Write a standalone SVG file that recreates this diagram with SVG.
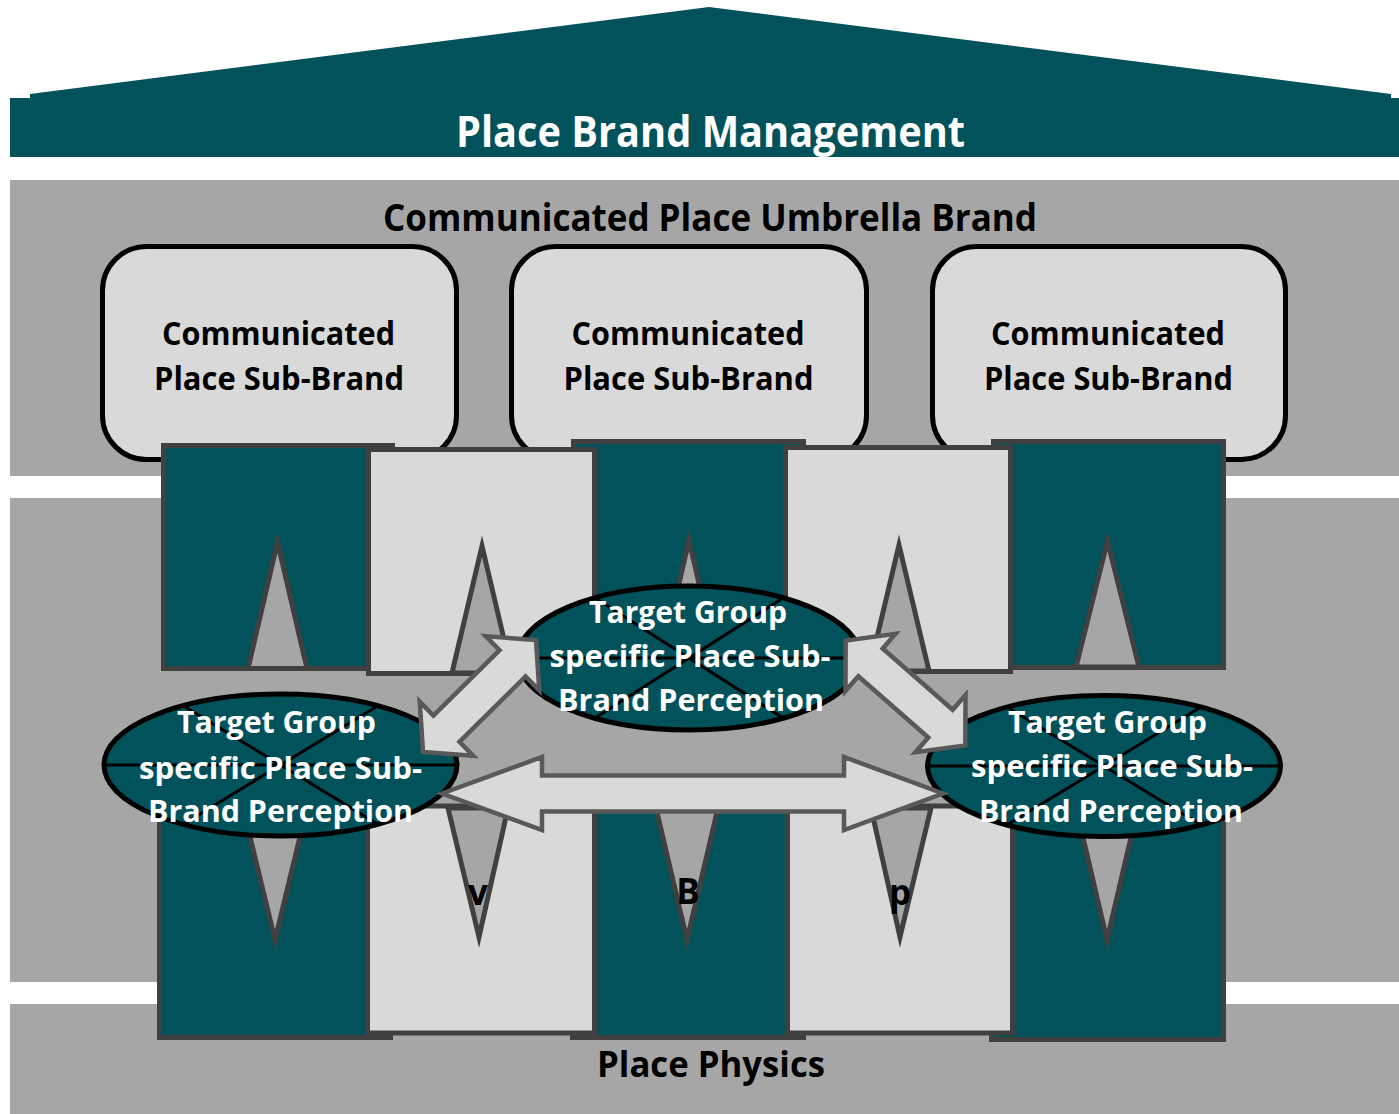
<svg xmlns="http://www.w3.org/2000/svg" width="1399" height="1114" viewBox="0 0 1399 1114">
  <style>
    .band { fill: #A6A6A6; }
    .teal { fill: #02525C; stroke: #404040; stroke-width: 5; }
    .light { fill: #D9D9D9; stroke: #404040; stroke-width: 5; }
    .spike { fill: #A6A6A6; stroke: #404040; stroke-width: 5; stroke-linejoin: miter; stroke-miterlimit: 10; }
    .box { fill: #D9D9D9; stroke: #000; stroke-width: 5; }
    .oval { fill: #02525C; stroke: #000; stroke-width: 5; }
    .cross { stroke: #000; stroke-width: 3; fill: none; }
    .arrow { fill: #D9D9D9; stroke: #595959; stroke-width: 4.5; stroke-linejoin: miter; }
    text { font-family: "Open Sans", "Noto Sans", "DejaVu Sans", sans-serif; font-weight: 700; text-anchor: middle; }
    .dark { fill: #000; }
    .white { fill: #fff; }
  </style>
  <defs>
    <!-- double-headed block arrow along the x axis, centred on the origin -->
    <polygon id="diag-arrow" points="-79.5,0 -46.5,-38 -46.5,-18.5 46.5,-18.5 46.5,-38 79.5,0 46.5,38 46.5,18.5 -46.5,18.5 -46.5,38"/>
  </defs>

  <rect width="1399" height="1114" fill="#fff"/>

  <!-- horizontal layers -->
  <g id="layers">
    <rect class="band" x="10" y="180" width="1389" height="296"/>
    <rect class="band" x="10" y="498" width="1389" height="484"/>
    <rect class="band" x="10" y="1004" width="1389" height="110"/>
  </g>

  <!-- roof -->
  <g id="roof">
    <polygon fill="#02525C" points="10,98 30,98 30,94 709,7 1391,94 1391,98 1399,98 1399,157 10,157"/>
    <text class="white" x="710.5" y="147" font-size="43" textLength="509" lengthAdjust="spacingAndGlyphs">Place Brand Management</text>
  </g>

  <g id="umbrella-label">
    <text class="dark" x="710" y="231" font-size="37" textLength="654" lengthAdjust="spacingAndGlyphs">Communicated Place Umbrella Brand</text>
  </g>

  <!-- sub-brand boxes -->
  <g id="sub-brand-1">
    <rect class="box" x="102.5" y="246.5" width="354" height="213" rx="44" ry="44"/>
    <text class="dark" x="278.5" y="345" font-size="32" textLength="233" lengthAdjust="spacingAndGlyphs">Communicated</text>
    <text class="dark" x="279" y="390" font-size="32" textLength="250" lengthAdjust="spacingAndGlyphs">Place Sub-Brand</text>
  </g>
  <g id="sub-brand-2">
    <rect class="box" x="511.5" y="246.5" width="355" height="213" rx="44" ry="44"/>
    <text class="dark" x="688" y="345" font-size="32" textLength="233" lengthAdjust="spacingAndGlyphs">Communicated</text>
    <text class="dark" x="688.5" y="390" font-size="32" textLength="250" lengthAdjust="spacingAndGlyphs">Place Sub-Brand</text>
  </g>
  <g id="sub-brand-3">
    <rect class="box" x="932.5" y="246.5" width="353" height="213" rx="44" ry="44"/>
    <text class="dark" x="1108" y="345" font-size="32" textLength="234" lengthAdjust="spacingAndGlyphs">Communicated</text>
    <text class="dark" x="1108.5" y="390" font-size="32" textLength="249" lengthAdjust="spacingAndGlyphs">Place Sub-Brand</text>
  </g>

  <!-- upper pillar segments -->
  <g id="pillars-upper">
    <rect class="teal" x="163.5" y="445.5" width="229" height="223"/>
    <polygon class="spike" points="277.5,542 307,668.5 248,668.5"/>
    <rect class="teal" x="573.5" y="441.5" width="230" height="230"/>
    <polygon class="spike" points="689,540 719,671 659,671"/>
    <rect class="teal" x="993.5" y="441.5" width="230" height="226"/>
    <polygon class="spike" points="1107.5,541 1139,667 1076,667"/>
    <rect class="light" x="368.5" y="449.5" width="226" height="224"/>
    <polygon class="spike" points="482,546 512,673 452,673"/>
    <rect class="light" x="785.5" y="447.5" width="225" height="224"/>
    <polygon class="spike" points="899,545 929,671 869,671"/>
  </g>

  <!-- lower pillar segments -->
  <g id="pillars-lower">
    <rect class="teal" x="159.5" y="812" width="231" height="225.5"/>
    <polygon class="spike" points="244,812 306,812 275,940"/>
    <rect class="teal" x="572.5" y="806" width="231" height="231.5"/>
    <polygon class="spike" points="656,808 718,808 687,940"/>
    <rect class="teal" x="991.5" y="812" width="232" height="227.5"/>
    <polygon class="spike" points="1077,812 1137,812 1107,940"/>
    <rect class="light" x="367.5" y="806" width="227" height="227"/>
    <polygon class="spike" points="448,808 508,808 479,937"/>
    <rect class="light" x="787.5" y="806" width="225" height="227"/>
    <polygon class="spike" points="871,808 931,808 900,937"/>
    <text class="dark" x="478" y="905" font-size="35">v</text>
    <text class="dark" x="688" y="904" font-size="35">B</text>
    <text class="dark" x="900" y="905" font-size="35">p</text>
  </g>

  <g id="place-physics">
    <text class="dark" x="711" y="1077" font-size="35" textLength="228" lengthAdjust="spacingAndGlyphs">Place Physics</text>
  </g>

  <!-- target group perceptions -->
  <g id="perception-left">
    <ellipse class="oval" cx="280.5" cy="765" rx="176.5" ry="71"/>
    <path class="cross" d="M104,765 H457 M183.5,706 L377.5,824 M377.5,706 L183.5,824"/>
    <text class="white" x="276.5" y="733" font-size="31" textLength="199" lengthAdjust="spacingAndGlyphs">Target Group</text>
    <text class="white" x="280.5" y="779" font-size="31" textLength="283" lengthAdjust="spacingAndGlyphs">specific Place Sub-</text>
    <text class="white" x="280.5" y="822" font-size="31" textLength="265" lengthAdjust="spacingAndGlyphs">Brand Perception</text>
  </g>
  <g id="perception-top">
    <ellipse class="oval" cx="689" cy="658" rx="171.5" ry="72"/>
    <path class="cross" d="M517.5,658 H860.5 M595,598 L783,718 M783,598 L595,718"/>
    <text class="white" x="688" y="623" font-size="31" textLength="198" lengthAdjust="spacingAndGlyphs">Target Group</text>
    <text class="white" x="690" y="667" font-size="31" textLength="281" lengthAdjust="spacingAndGlyphs">specific Place Sub-</text>
    <text class="white" x="691" y="711" font-size="31" textLength="266" lengthAdjust="spacingAndGlyphs">Brand Perception</text>
  </g>
  <g id="perception-right">
    <ellipse class="oval" cx="1104" cy="766" rx="176.5" ry="70.5"/>
    <path class="cross" d="M927.5,766 H1280.5 M1007,707 L1201,825 M1201,707 L1007,825"/>
    <text class="white" x="1107.5" y="733" font-size="31" textLength="199" lengthAdjust="spacingAndGlyphs">Target Group</text>
    <text class="white" x="1112" y="777" font-size="31" textLength="282" lengthAdjust="spacingAndGlyphs">specific Place Sub-</text>
    <text class="white" x="1111" y="822" font-size="31" textLength="264" lengthAdjust="spacingAndGlyphs">Brand Perception</text>
  </g>

  <!-- two-way arrows between perceptions -->
  <g id="connectors">
    <use href="#diag-arrow" class="arrow" transform="translate(479.5,696) rotate(-44.7)"/>
    <use href="#diag-arrow" class="arrow" transform="translate(905.5,693) rotate(41.2)"/>
    <polygon class="arrow" points="442,793.5 542,757 542,775.5 844,775.5 844,757 943,793.5 844,830 844,811.5 542,811.5 542,830"/>
  </g>
</svg>
